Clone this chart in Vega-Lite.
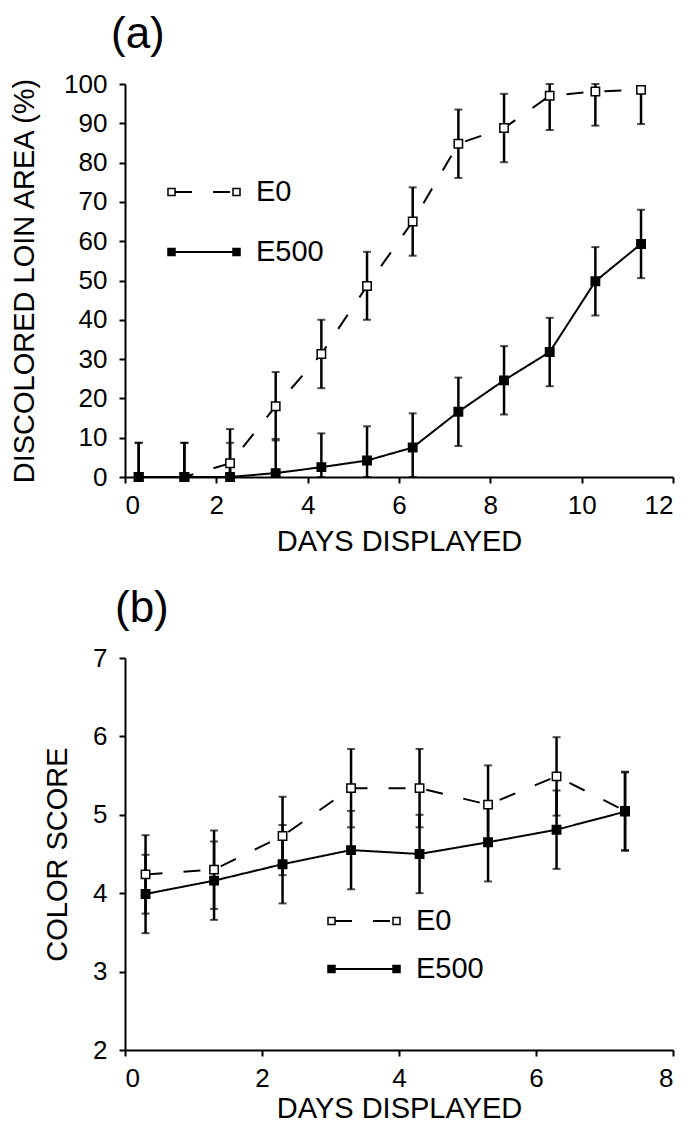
{
  "$schema": "https://vega.github.io/schema/vega-lite/v6.json",
  "padding": {"left": 10, "top": 13, "right": 5, "bottom": 0},
  "background": "white",
  "config": {
    "font": "Liberation Sans",
    "view": {"stroke": null},
    "axis": {
      "domainColor": "black", "domainWidth": 2, "tickColor": "black", "tickWidth": 2, "tickSize": 6,
      "labelFontSize": 26, "labelColor": "black", "labelPadding": 9, "labelFont": "Liberation Sans",
      "titleFontSize": 29, "titleFontWeight": "normal", "titleColor": "black", "titleFont": "Liberation Sans",
      "grid": false, "labelOverlap": false
    },
    "axisX": {"titlePadding": 9},
    "axisY": {"titlePadding": 24, "labelPadding": 12},
    "title": {"fontSize": 44, "fontWeight": "normal", "anchor": "start", "frame": "group", "color": "black", "font": "Liberation Sans"},
    "legend": {"labelFontSize": 29, "labelColor": "black", "labelFont": "Liberation Sans"}
  },
  "resolve": {
    "scale": {"fill": "independent", "strokeDash": "independent", "x": "independent", "y": "independent"},
    "legend": {"fill": "independent", "strokeDash": "independent"}
  },
  "datasets": {
    "a": [
      {"day": 0.3, "series": "E0", "mean": 0, "lo": 0, "hi": 8.7},
      {"day": 1.3, "series": "E0", "mean": 0, "lo": 0, "hi": 8.7},
      {"day": 2.3, "series": "E0", "mean": 3.5, "lo": 0, "hi": 12.2},
      {"day": 3.3, "series": "E0", "mean": 18, "lo": 9.3, "hi": 26.7},
      {"day": 4.3, "series": "E0", "mean": 31.3, "lo": 22.6, "hi": 40},
      {"day": 5.3, "series": "E0", "mean": 48.6, "lo": 40, "hi": 57.3},
      {"day": 6.3, "series": "E0", "mean": 65, "lo": 56.3, "hi": 73.7},
      {"day": 7.3, "series": "E0", "mean": 84.8, "lo": 76.1, "hi": 93.5},
      {"day": 8.3, "series": "E0", "mean": 88.8, "lo": 80.1, "hi": 97.5},
      {"day": 9.3, "series": "E0", "mean": 97, "lo": 88.3, "hi": 100},
      {"day": 10.3, "series": "E0", "mean": 98.1, "lo": 89.4, "hi": 100},
      {"day": 11.3, "series": "E0", "mean": 98.5, "lo": 89.8, "hi": 98.5},
      {"day": 0.3, "series": "E500", "mean": 0, "lo": 0, "hi": 8.7},
      {"day": 1.3, "series": "E500", "mean": 0, "lo": 0, "hi": 8.7},
      {"day": 2.3, "series": "E500", "mean": 0, "lo": 0, "hi": 8.7},
      {"day": 3.3, "series": "E500", "mean": 1, "lo": 0, "hi": 9.7},
      {"day": 4.3, "series": "E500", "mean": 2.5, "lo": 0, "hi": 11.1},
      {"day": 5.3, "series": "E500", "mean": 4.2, "lo": 0, "hi": 12.9},
      {"day": 6.3, "series": "E500", "mean": 7.5, "lo": 0, "hi": 16.2},
      {"day": 7.3, "series": "E500", "mean": 16.6, "lo": 7.9, "hi": 25.3},
      {"day": 8.3, "series": "E500", "mean": 24.6, "lo": 15.9, "hi": 33.3},
      {"day": 9.3, "series": "E500", "mean": 31.8, "lo": 23.1, "hi": 40.5},
      {"day": 10.3, "series": "E500", "mean": 49.8, "lo": 41.1, "hi": 58.5},
      {"day": 11.3, "series": "E500", "mean": 59.3, "lo": 50.6, "hi": 68}
    ],
    "b": [
      {"day": 0.3, "series": "E0", "mean": 4.24, "lo": 3.74, "hi": 4.74},
      {"day": 1.3, "series": "E0", "mean": 4.3, "lo": 3.8, "hi": 4.8},
      {"day": 2.3, "series": "E0", "mean": 4.73, "lo": 4.23, "hi": 5.23},
      {"day": 3.3, "series": "E0", "mean": 5.34, "lo": 4.84, "hi": 5.84},
      {"day": 4.3, "series": "E0", "mean": 5.34, "lo": 4.84, "hi": 5.84},
      {"day": 5.3, "series": "E0", "mean": 5.13, "lo": 4.63, "hi": 5.63},
      {"day": 6.3, "series": "E0", "mean": 5.49, "lo": 4.99, "hi": 5.99},
      {"day": 7.3, "series": "E0", "mean": 5.05, "lo": 4.55, "hi": 5.55},
      {"day": 0.3, "series": "E500", "mean": 3.99, "lo": 3.49, "hi": 4.49},
      {"day": 1.3, "series": "E500", "mean": 4.16, "lo": 3.66, "hi": 4.66},
      {"day": 2.3, "series": "E500", "mean": 4.37, "lo": 3.87, "hi": 4.87},
      {"day": 3.3, "series": "E500", "mean": 4.55, "lo": 4.05, "hi": 5.05},
      {"day": 4.3, "series": "E500", "mean": 4.5, "lo": 4.0, "hi": 5.0},
      {"day": 5.3, "series": "E500", "mean": 4.65, "lo": 4.15, "hi": 5.15},
      {"day": 6.3, "series": "E500", "mean": 4.81, "lo": 4.31, "hi": 5.31},
      {"day": 7.3, "series": "E500", "mean": 5.04, "lo": 4.54, "hi": 5.54}
    ]
  },
  "spacing": 31,
  "vconcat": [
    {
      "title": {"text": "(a)", "dx": -14, "offset": 14},
      "width": 548, "height": 393,
      "data": {"name": "a"},
      "encoding": {
        "x": {"field": "day", "type": "quantitative", "scale": {"domain": [0, 12], "nice": false},
              "axis": {"values": [0, 2, 4, 6, 8, 10, 12], "format": "d", "title": "DAYS DISPLAYED",
                       "encode": {"ticks": {"update": {"y": {"value": -6}}}}}}
      },
      "layer": [
        {"mark": {"type": "rule", "strokeWidth": 2.5, "color": "black"},
         "encoding": {"y": {"field": "lo", "type": "quantitative", "scale": {"domain": [0, 100], "nice": false},
                            "axis": {"values": [0, 10, 20, 30, 40, 50, 60, 70, 80, 90, 100], "format": "d", "encode": {"ticks": {"update": {"x": {"value": 6}}}}},
                            "title": "DISCOLORED LOIN AREA (%)"},
                      "y2": {"field": "hi"}}},
        {"mark": {"type": "tick", "orient": "horizontal", "size": 8, "thickness": 2, "color": "black"},
         "encoding": {"y": {"field": "hi", "type": "quantitative", "title": "DISCOLORED LOIN AREA (%)",
                            "axis": {"values": [0, 10, 20, 30, 40, 50, 60, 70, 80, 90, 100], "format": "d", "encode": {"ticks": {"update": {"x": {"value": 6}}}}}}}},
        {"mark": {"type": "tick", "orient": "horizontal", "size": 8, "thickness": 2, "color": "black"},
         "encoding": {"y": {"field": "lo", "type": "quantitative", "title": "DISCOLORED LOIN AREA (%)",
                            "axis": {"values": [0, 10, 20, 30, 40, 50, 60, 70, 80, 90, 100], "format": "d", "encode": {"ticks": {"update": {"x": {"value": 6}}}}}}}},
        {"mark": {"type": "line", "color": "black", "strokeWidth": 2},
         "encoding": {"y": {"field": "mean", "type": "quantitative", "title": "DISCOLORED LOIN AREA (%)",
                            "axis": {"values": [0, 10, 20, 30, 40, 50, 60, 70, 80, 90, 100], "format": "d", "encode": {"ticks": {"update": {"x": {"value": 6}}}}}},
                      "strokeDash": {"field": "series", "type": "nominal",
                                     "scale": {"domain": ["E0", "E500"], "range": [[17, 21], [1, 0]]},
                                     "legend": {"orient": "none", "legendX": 58, "legendY": 87, "title": null,
                                                "symbolType": "M-1.45,0H1.45", "symbolSize": 1600, "symbolStrokeWidth": 2,
                                                "symbolStrokeColor": "black", "labelOffset": 31, "rowPadding": 24, "labelOpacity": 0}}}},
        {"mark": {"type": "point", "shape": "square", "filled": true, "stroke": "black", "strokeWidth": 1.5, "size": 70, "opacity": 1},
         "encoding": {"y": {"field": "mean", "type": "quantitative", "title": "DISCOLORED LOIN AREA (%)",
                            "axis": {"values": [0, 10, 20, 30, 40, 50, 60, 70, 80, 90, 100], "format": "d", "encode": {"ticks": {"update": {"x": {"value": 6}}}}}},
                      "fill": {"field": "series", "type": "nominal", "scale": {"range": ["white", "black"]},
                               "legend": {"orient": "none", "legendX": 58, "legendY": 87, "title": null,
                                          "symbolType": "M-1.8,-0.175H-1.45V0.175H-1.8Z M1.45,-0.175H1.8V0.175H1.45Z",
                                          "symbolSize": 1600, "symbolStrokeWidth": 1.5, "symbolStrokeColor": "black",
                                          "symbolOpacity": 1, "labelOffset": 31, "rowPadding": 24}}}}
      ]
    },
    {
      "title": {"text": "(b)", "dx": -10, "offset": 14},
      "width": 548, "height": 392,
      "data": {"name": "b"},
      "encoding": {
        "x": {"field": "day", "type": "quantitative", "scale": {"domain": [0, 8], "nice": false},
              "axis": {"values": [0, 2, 4, 6, 8], "format": "d", "title": "DAYS DISPLAYED", "titlePadding": 3,
                       "encode": {"ticks": {"update": {"y": {"value": -6}}}}}}
      },
      "layer": [
        {"mark": {"type": "rule", "strokeWidth": 2.5, "color": "black"},
         "encoding": {"y": {"field": "lo", "type": "quantitative", "scale": {"domain": [2, 7], "nice": false},
                            "axis": {"values": [2, 3, 4, 5, 6, 7], "format": "d", "titlePadding": 20, "encode": {"ticks": {"update": {"x": {"value": 6}}}}},
                            "title": "COLOR SCORE"},
                      "y2": {"field": "hi"}}},
        {"mark": {"type": "tick", "orient": "horizontal", "size": 8, "thickness": 2, "color": "black"},
         "encoding": {"y": {"field": "hi", "type": "quantitative", "title": "COLOR SCORE",
                            "axis": {"values": [2, 3, 4, 5, 6, 7], "format": "d", "titlePadding": 20, "encode": {"ticks": {"update": {"x": {"value": 6}}}}}}}},
        {"mark": {"type": "tick", "orient": "horizontal", "size": 8, "thickness": 2, "color": "black"},
         "encoding": {"y": {"field": "lo", "type": "quantitative", "title": "COLOR SCORE",
                            "axis": {"values": [2, 3, 4, 5, 6, 7], "format": "d", "titlePadding": 20, "encode": {"ticks": {"update": {"x": {"value": 6}}}}}}}},
        {"mark": {"type": "line", "color": "black", "strokeWidth": 2},
         "encoding": {"y": {"field": "mean", "type": "quantitative", "title": "COLOR SCORE",
                            "axis": {"values": [2, 3, 4, 5, 6, 7], "format": "d", "titlePadding": 20, "encode": {"ticks": {"update": {"x": {"value": 6}}}}}},
                      "strokeDash": {"field": "series", "type": "nominal",
                                     "scale": {"domain": ["E0", "E500"], "range": [[17, 21], [1, 0]]},
                                     "legend": {"orient": "none", "legendX": 218, "legendY": 242, "title": null,
                                                "symbolType": "M-1.45,0H1.45", "symbolSize": 1600, "symbolStrokeWidth": 2,
                                                "symbolStrokeColor": "black", "labelOffset": 31, "rowPadding": 12, "labelOpacity": 0}}}},
        {"mark": {"type": "point", "shape": "square", "filled": true, "stroke": "black", "strokeWidth": 1.5, "size": 70, "opacity": 1},
         "encoding": {"y": {"field": "mean", "type": "quantitative", "title": "COLOR SCORE",
                            "axis": {"values": [2, 3, 4, 5, 6, 7], "format": "d", "titlePadding": 20, "encode": {"ticks": {"update": {"x": {"value": 6}}}}}},
                      "fill": {"field": "series", "type": "nominal", "scale": {"range": ["white", "black"]},
                               "legend": {"orient": "none", "legendX": 218, "legendY": 242, "title": null,
                                          "symbolType": "M-1.8,-0.175H-1.45V0.175H-1.8Z M1.45,-0.175H1.8V0.175H1.45Z",
                                          "symbolSize": 1600, "symbolStrokeWidth": 1.5, "symbolStrokeColor": "black",
                                          "symbolOpacity": 1, "labelOffset": 31, "rowPadding": 12}}}}
      ]
    }
  ]
}
